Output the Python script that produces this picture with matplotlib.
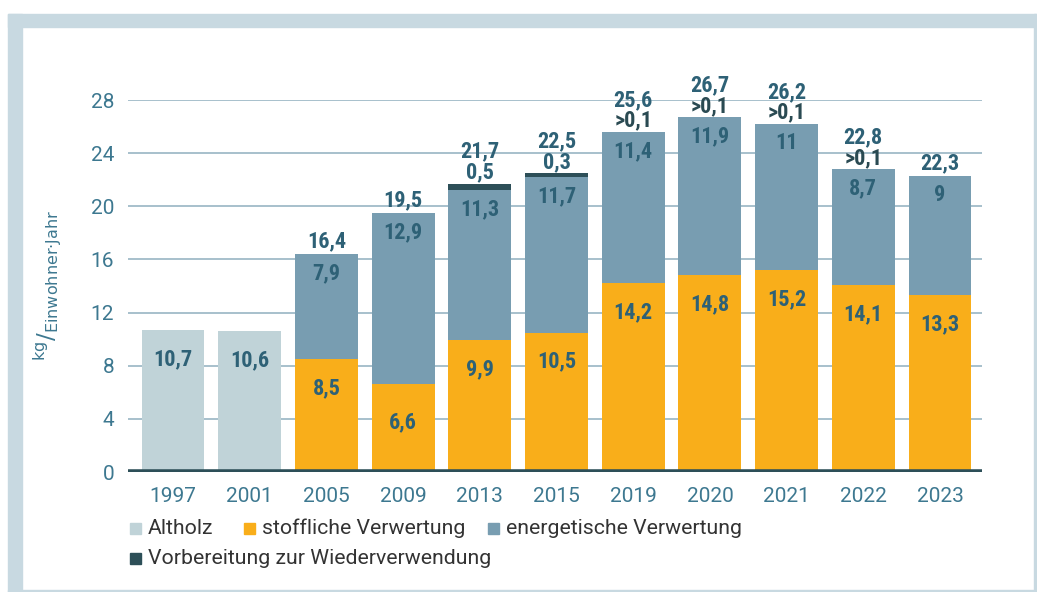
import matplotlib.pyplot as plt
from matplotlib.patches import Rectangle
import numpy as np

# Daten
years = ['1997', '2001', '2005', '2009', '2013', '2015', '2019', '2020', '2021', '2022', '2023']
altholz = [10.7, 10.6, 0, 0, 0, 0, 0, 0, 0, 0, 0]
stofflich = [0, 0, 8.5, 6.6, 9.9, 10.5, 14.2, 14.8, 15.2, 14.1, 13.3]
energetisch = [0, 0, 7.9, 12.9, 11.3, 11.7, 11.4, 11.9, 11.0, 8.7, 9.0]
vorbereitung = [0, 0, 0, 0, 0.5, 0.3, 0, 0, 0, 0, 0]
vorb_labels = ['', '', '', '', '0,5', '0,3', '>0,1', '>0,1', '>0,1', '>0,1', '']
totals = [None, None, 16.4, 19.5, 21.7, 22.5, 25.6, 26.7, 26.2, 22.8, 22.3]
yticks = [0, 4, 8, 12, 16, 20, 24, 28]

C_ALT = '#c0d3d8'
C_STO = '#f9ae1a'
C_ENE = '#789db1'
C_VOR = '#2d4f58'
C_TXT = '#2e6176'
C_TICK = '#3d7890'
C_GRID = '#98b5c3'
C_FRAME = '#c8d9e1'

COND = ['Roboto Condensed', 'Liberation Sans Narrow', 'DejaVu Sans']
LIGHT = ['Roboto', 'DejaVu Sans']


def fmt(v):
    s = ('%.1f' % v).rstrip('0').rstrip('.')
    return s.replace('.', ',')


fig = plt.figure(figsize=(10.37, 5.92), dpi=100)
ax = fig.add_axes([128 / 1037, 120 / 592, 854 / 1037, 372 / 592])

x = np.arange(len(years))
w = 0.82
alt = np.array(altholz)
sto = np.array(stofflich)
ene = np.array(energetisch)
vor = np.array(vorbereitung)

ax.bar(x, alt, w, color=C_ALT, zorder=2)
ax.bar(x, sto, w, color=C_STO, zorder=2)
ax.bar(x, ene, w, bottom=sto, color=C_ENE, zorder=2)
ax.bar(x, vor, w, bottom=sto + ene, color=C_VOR, zorder=2)

ax.set_xlim(-0.587, 10.548)
ax.set_ylim(0, 28)
ax.set_yticks(yticks)
ax.set_xticks(x)
ax.set_xticklabels(years)
ax.grid(axis='y', color=C_GRID, linewidth=1.2, zorder=0)
ax.axhline(0, color=C_VOR, linewidth=4, zorder=3)
for s in ax.spines.values():
    s.set_visible(False)
ax.tick_params(length=0, colors=C_TICK, labelsize=15)
ax.tick_params(axis='y', pad=10)
ax.tick_params(axis='x', pad=11)
for lab in ax.get_xticklabels() + ax.get_yticklabels():
    lab.set_family(LIGHT)

lkw = dict(ha='center', va='center', family=COND, fontweight='bold', fontstretch='condensed',
           fontsize=16, color=C_TXT, zorder=4)
for i in range(len(years)):
    if alt[i] > 0:
        ax.annotate(fmt(alt[i]), (x[i], alt[i]), xytext=(0, -21), textcoords='offset points', **lkw)
    if sto[i] > 0:
        off = -21 if sto[i] > 8 else -27
        ax.annotate(fmt(sto[i]), (x[i], sto[i]), xytext=(0, off), textcoords='offset points', **lkw)
    if ene[i] > 0:
        ax.annotate(fmt(ene[i]), (x[i], sto[i] + ene[i]), xytext=(0, -14), textcoords='offset points', **lkw)
    top = sto[i] + ene[i] + vor[i]
    if vorb_labels[i]:
        k = dict(lkw)
        k['color'] = '#2a4a52' if vorb_labels[i].startswith('>') else C_TXT
        ax.annotate(vorb_labels[i], (x[i], top), xytext=(0, 8), textcoords='offset points', **k)
        ax.annotate(fmt(totals[i]), (x[i], top), xytext=(0, 23), textcoords='offset points', **lkw)
    elif totals[i] is not None:
        ax.annotate(fmt(totals[i]), (x[i], top), xytext=(0, 9), textcoords='offset points', **lkw)

# y-Achsentitel
fig.text(48 / 1037, 1 - 285 / 592, r'$^{\mathrm{kg}}/_{\mathrm{Einwohner{\cdot}Jahr}}$',
         rotation=90, ha='center', va='center', fontsize=16.5, color=C_TICK)

# Legende
legend_items = [
    (130, 528, C_ALT, 'Altholz'),
    (244, 528, C_STO, 'stoffliche Verwertung'),
    (488, 528, C_ENE, 'energetische Verwertung'),
    (130, 558, C_VOR, 'Vorbereitung zur Wiederverwendung'),
]
for px, py, col, txt in legend_items:
    fig.patches.append(Rectangle((px / 1037, 1 - (py + 5.5) / 592), 11 / 1037, 11 / 592,
                                 transform=fig.transFigure, color=col))
    fig.text((px + 18) / 1037, 1 - py / 592, txt, ha='left', va='center', fontsize=15.3,
             color='#333333', family=LIGHT)

# Rahmen
fig.patches.append(Rectangle((8 / 1037, 0), 14 / 1037, 1 - 14 / 592, transform=fig.transFigure, color=C_FRAME))
fig.patches.append(Rectangle((8 / 1037, 1 - 27 / 592), 1 - 8 / 1037, 13 / 592, transform=fig.transFigure, color=C_FRAME))
fig.patches.append(Rectangle((1034 / 1037, 0), 2 / 1037, 1 - 14 / 592, transform=fig.transFigure, color=C_FRAME))
fig.patches.append(Rectangle((8 / 1037, 0), 1 - 8 / 1037, 2 / 592, transform=fig.transFigure, color=C_FRAME))

fig.savefig('out.png', dpi=100)
